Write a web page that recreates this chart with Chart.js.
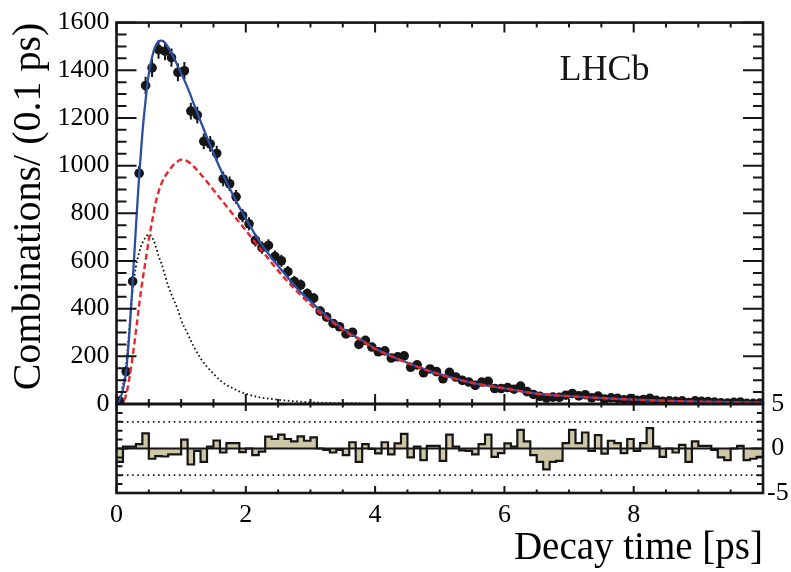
<!DOCTYPE html>
<html>
<head>
<meta charset="utf-8">
<script src="https://cdn.jsdelivr.net/npm/chart.js@4.4.1/dist/chart.umd.min.js"></script>
<style>
  html,body{margin:0;padding:0;background:#fff}
  #wrap{position:relative;width:791px;height:572px}
  #wrap canvas{position:absolute;left:0;top:0}
</style>
</head>
<body>
<div id="wrap">
  <canvas id="main" width="791" height="572"></canvas>
  <canvas id="pull" width="791" height="572"></canvas>
</div>
<script>
/* Decay time fit + pull panel (LHCb style). */

var FONT = '"Liberation Serif", "DejaVu Serif", serif';
var INK = '#161616';

/* ---------- data: 0.1 ps bins from 0 to 10 ps ---------- */
var BIN_WIDTH = 0.1;
var COUNTS = [
  12,136,514,968,1336,1410,1487,1480,1453,1391,
  1398,1229,1212,1102,1091,1051,944,924,869,790,
  756,687,656,665,619,601,555,514,500,463,
  444,390,365,338,324,294,301,250,267,239,
  219,223,193,198,202,154,164,131,147,136,
  106,133,113,99,92,78,92,95,65,65,
  69,62,75,52,40,32,25,29,28,37,
  44,34,39,26,33,21,26,24,18,23,
  16,19,24,15,11,13,11,13,6,13,
  11,10,8,5,4,7,8,3,3,4
];
var ERRORS = [
  3.5,12,23,31,37,38,39,38,38,37,
  37,35,35,33,33,32,31,30,29,28,
  27,26,26,26,25,25,24,23,22,22,
  21,20,19,18,18,17,17,16,16,15,
  15,15,14,14,14,12,13,11,12,12,
  10,12,11,10,10,9,10,10,8,8,
  8,8,9,7,6,6,5,5,5,6,
  7,6,6,5,6,5,5,5,4,5,
  4,4,5,4,3,4,3,4,2,4,
  3,3,3,2,2,3,3,2,2,2
];
var PULLS = [
  -1.5,0.2,0.2,0.5,1.7,-1.15,-0.85,-0.9,-0.65,-0.65,
  1.0,-1.8,-0.27,-1.5,0.2,0.9,-0.45,0.6,0.6,-0.4,
  0,-0.75,-0.35,1.33,1.07,1.55,1.07,0.8,1.37,0.87,
  1.25,0,-0.15,-0.45,-0.15,-0.75,0.7,-1.5,0.5,-0.05,
  -0.55,0.7,-0.65,0.57,1.65,-1.0,0.2,-1.3,0.3,0.3,
  -1.4,1.55,0.2,-0.2,-0.27,-0.65,0.5,1.55,-0.95,-0.53,
  0.57,0.2,2.1,0.8,-0.75,-1.5,-2.35,-1.5,-1.4,0.6,
  2.1,0.6,1.8,-0.27,1.5,-0.57,0.87,0.6,-0.53,1.07,
  -0.27,0.6,2.3,0.2,-0.95,0,-0.45,0.4,-1.5,0.8,
  0.3,0.3,-0.15,-1.0,-1.3,0,0.3,-1.3,-1.15,-0.95
];

/* ---------- fit curves ---------- */
var CURVE_T = [0,0.05,0.1,0.15,0.2,0.25,0.3,0.35,0.4,0.45,
  0.5,0.55,0.6,0.65,0.7,0.75,0.8,0.85,0.9,0.95,
  1.0,1.1,1.2,1.3,1.4,1.5,1.6,1.7,1.8,1.9,
  2.0,2.2,2.4,2.6,2.8,3.0,3.2,3.4,3.6,3.8,
  4.0,4.2,4.5,5.0,5.5,6.0,6.5,7.0,7.5,8.0,
  8.5,9.0,9.5,10.0];
var FIT_TOTAL = [0,18,62,140,300,510,740,955,1135,1275,
  1385,1455,1500,1520,1524,1515,1496,1472,1445,1416,
  1388,1327,1256,1186,1118,1053,990,932,878,826,
  778,686,612,547,483,431,380,336,298,267,
  233,207,173,125,89,66,43,33,25,18.5,
  13.5,10,7.5,5.5];
var FIT_SIGNAL = [0,0,6,40,110,200,305,415,515,600,
  690,765,838,890,928,955,975,993,1008,1018,
  1025,1018,995,965,932,898,864,830,796,762,
  728,660,592,528,470,418,371,331,294,264,
  231,206,172,124,89,66,43,33,25,18.5,
  13.5,10,7.5,5.5];
var FIT_PROMPT = [0,25,80,170,320,480,575,635,675,700,
  712,700,668,622,585,540,495,460,428,395,
  352,295,238,192,156,127,100,80,66,53,
  43,29,21,15,10.5,7,5,3.5,2.5,2,
  1.5,1,0.7,0.4,null,null,null,null,null,null,
  null,null,null,null];

var X_MAJOR = 2, X_MINOR = 0.5;
var Y_LABELS_MAIN = {min:0, max:1600, step:200, minor:50};
var Y_LABELS_PULL = {min:-5, max:5, step:5, minor:1};
var PULL_BANDS = [3, -3];

/* ---------- helpers ---------- */
var T_CENTRES = COUNTS.map(function(_, i){ return +((i + 0.5) * BIN_WIDTH).toFixed(2); });
function xy(ts, vs){ return ts.map(function(t, i){ return {x:t, y:vs[i]}; }); }
function plain(v){ return String(v); }

var pullSteps = PULLS.map(function(p, i){ return {x:+(i*BIN_WIDTH).toFixed(2), y:p}; });
pullSteps.push({x:PULLS.length*BIN_WIDTH, y:PULLS[PULLS.length-1]});

function framePlugin(id, yId, spec){
  return { id:id, afterDraw:function(chart){
    var ctx = chart.ctx, a = chart.chartArea, xs = chart.scales.x, ys = chart.scales[yId];
    ctx.save();
    ctx.strokeStyle = INK; ctx.lineWidth = 2;
    ctx.beginPath();
    for (var v = 0; v <= 10 + 1e-9; v += X_MINOR){
      var mj = Math.abs(v / X_MAJOR - Math.round(v / X_MAJOR)) < 1e-6;
      var L = mj ? spec.xMaj : spec.xMin, px = xs.getPixelForValue(v);
      ctx.moveTo(px, a.bottom); ctx.lineTo(px, a.bottom - L);
      ctx.moveTo(px, a.top); ctx.lineTo(px, a.top + L);
    }
    var yl = spec.y;
    for (var w = yl.min; w <= yl.max + 1e-9; w += yl.minor){
      var mjy = Math.abs(w / yl.step - Math.round(w / yl.step)) < 1e-6;
      var Ly = mjy ? spec.yMaj : spec.yMin, py = ys.getPixelForValue(w);
      ctx.moveTo(a.left, py); ctx.lineTo(a.left + Ly, py);
      ctx.moveTo(a.right, py); ctx.lineTo(a.right - Ly, py);
    }
    ctx.stroke();
    ctx.lineWidth = 2.6;
    ctx.strokeRect(a.left, a.top, a.right - a.left, a.bottom - a.top);
    if (spec.tag){
      ctx.fillStyle = INK;
      ctx.font = '36px ' + FONT;
      ctx.textBaseline = 'alphabetic';
      ctx.fillText(spec.tag, a.left + 443, a.top + 57);
    }
    ctx.restore();
  }};
}

var errorBars = {
  id:'errorBars',
  beforeDatasetsDraw:function(chart){
    var ctx = chart.ctx, xs = chart.scales.x, ys = chart.scales.y, a = chart.chartArea;
    ctx.save();
    ctx.beginPath(); ctx.rect(a.left, a.top, a.right - a.left, a.bottom - a.top); ctx.clip();
    ctx.strokeStyle = INK; ctx.lineWidth = 2;
    ctx.beginPath();
    COUNTS.forEach(function(c, i){
      var px = xs.getPixelForValue(T_CENTRES[i]);
      ctx.moveTo(px, ys.getPixelForValue(c - ERRORS[i]));
      ctx.lineTo(px, ys.getPixelForValue(c + ERRORS[i]));
    });
    ctx.stroke();
    ctx.restore();
  }
};

/* ---------- main panel ---------- */
new Chart(document.getElementById('main'), {
  type:'scatter',
  data:{ datasets:[
    { label:'Signal', type:'line', data:xy(CURVE_T, FIT_SIGNAL), borderColor:'#e8262b',
      borderDash:[6,3.5], borderWidth:2.4, pointRadius:0, fill:false,
      cubicInterpolationMode:'monotone', order:0 },
    { label:'Total', type:'line', data:xy(CURVE_T, FIT_TOTAL), borderColor:'#2b4ea1',
      borderWidth:2.3, pointRadius:0, fill:false, cubicInterpolationMode:'monotone', order:1 },
    { label:'Prompt', type:'line', data:xy(CURVE_T, FIT_PROMPT), borderColor:'#111',
      borderDash:[1.6,2.6], borderWidth:1.8, pointRadius:0, fill:false, spanGaps:false,
      cubicInterpolationMode:'monotone', order:2 },
    { label:'Data', data:xy(T_CENTRES, COUNTS), backgroundColor:INK, borderWidth:0,
      pointRadius:4.8, order:3 }
  ]},
  options:{
    responsive:false, animation:false, events:[],
    layout:{ padding:{top:16, right:28, bottom:168, left:0} },
    plugins:{ legend:{display:false}, tooltip:{enabled:false} },
    scales:{
      x:{ type:'linear', min:0, max:10, display:false },
      y:{ min:Y_LABELS_MAIN.min, max:Y_LABELS_MAIN.max,
        ticks:{ stepSize:Y_LABELS_MAIN.step, font:{family:FONT, size:26}, color:'#000',
          padding:7, callback:plain },
        grid:{ display:false, drawTicks:false }, border:{ display:false },
        title:{ display:true, text:'Combinations/ (0.1 ps)', align:'end', color:'#000',
          font:{family:FONT, size:40}, padding:{top:5, bottom:0} },
        afterFit:function(s){ s.width = 116.5; } }
    }
  },
  plugins:[errorBars, framePlugin('frameMain', 'y',
    {xMaj:10, xMin:5, yMaj:20, yMin:10, y:Y_LABELS_MAIN, tag:'LHCb'})]
});

/* ---------- pull panel ---------- */
function band(v){ return [{x:0, y:v}, {x:10, y:v}]; }
new Chart(document.getElementById('pull'), {
  type:'line',
  data:{ datasets:[
    { label:'zero', data:band(0), borderColor:INK, borderWidth:2, pointRadius:0, fill:false, order:0 },
    { label:'pull', data:pullSteps, stepped:true, borderColor:INK, borderWidth:2.2,
      backgroundColor:'#cdc7a8', fill:'origin', pointRadius:0, order:1 },
    { label:'+3', data:band(PULL_BANDS[0]), borderColor:INK, borderDash:[1.6,3.6],
      borderWidth:1.8, pointRadius:0, fill:false, order:2 },
    { label:'-3', data:band(PULL_BANDS[1]), borderColor:INK, borderDash:[1.6,3.6],
      borderWidth:1.8, pointRadius:0, fill:false, order:2 }
  ]},
  options:{
    responsive:false, animation:false, events:[],
    layout:{ padding:{top:404, right:0, bottom:0, left:116.5} },
    plugins:{ legend:{display:false}, tooltip:{enabled:false} },
    scales:{
      x:{ type:'linear', min:0, max:10,
        ticks:{ stepSize:X_MAJOR, autoSkip:false, maxRotation:0, color:'#000',
          font:{family:FONT, size:26}, padding:7,
          callback:function(v){ return v === 10 ? '' : String(v); } },
        grid:{ display:false, drawTicks:false }, border:{ display:false },
        title:{ display:true, text:'Decay time [ps]', align:'end', color:'#000',
          font:{family:FONT, size:39}, padding:{top:0, bottom:0} },
        afterFit:function(s){ s.height = 79; } },
      y:{ position:'right', min:Y_LABELS_PULL.min, max:Y_LABELS_PULL.max,
        ticks:{ stepSize:Y_LABELS_PULL.step, color:'#000', font:{family:FONT, size:26},
          padding:4, crossAlign:'center', callback:plain },
        grid:{ display:false, drawTicks:false }, border:{ display:false },
        afterFit:function(s){ s.width = 28; } }
    }
  },
  plugins:[framePlugin('framePull', 'y',
    {xMaj:7, xMin:3.5, yMaj:12, yMin:6, y:Y_LABELS_PULL})]
});
</script>
</body>
</html>
